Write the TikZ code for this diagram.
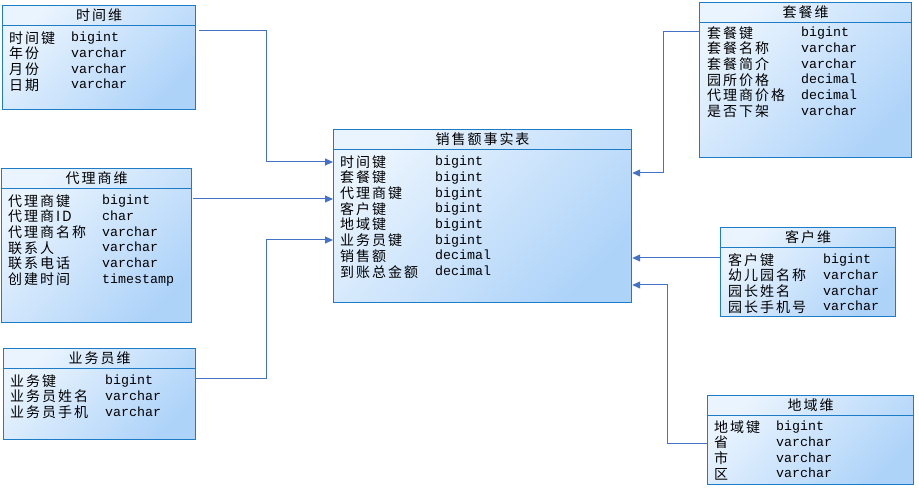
\documentclass[tikz,border=0pt]{standalone}
\usepackage{fontspec}
\usepackage{array}
\setmonofont{Liberation Mono}
\newfontfamily\cjk[LetterSpace=14]{Noto Sans CJK SC}
\usetikzlibrary{arrows.meta,calc}

\definecolor{boxblue}{HTML}{1E7CC6}
\definecolor{linkblue}{HTML}{4472C4}
\definecolor{filltop}{HTML}{EAF4FE}
\definecolor{fillbot}{HTML}{AED3F9}

\newsavebox\cellbox
\newcolumntype{K}[1]{>{\begin{lrbox}{\cellbox}\cjk}l<{\end{lrbox}\makebox[#1][l]{\smash{\raisebox{-1.5pt}{\usebox\cellbox}}}}}
\newcolumntype{Y}{>{\ttfamily\fontsize{13.3pt}{15.7pt}\selectfont}l}

\begin{document}
\begin{tikzpicture}[x=1pt, y=-1pt,
	dimbox/.style = {draw=boxblue, line width=1.2pt, anchor=north west, inner sep=0pt,
		left color=filltop, right color=fillbot, shading angle=45},
	dimtitle/.style = {inner sep=0pt, font=\cjk\fontsize{14pt}{15.7pt}\selectfont},
	dimrows/.style = {anchor=north west, inner sep=0pt, font=\fontsize{14pt}{15.7pt}\selectfont},
	headrule/.style = {draw=boxblue, line width=1pt},
	fklink/.style = {draw=linkblue, line width=1pt, -{Triangle[length=8pt,width=7pt]}}
]
\useasboundingbox (0,0) rectangle (919,494);

% tables
\node[dimbox, minimum width=193pt, minimum height=104pt] (time) at (2,5) {};
\node[dimbox, minimum width=190pt, minimum height=154pt] (agent) at (1,168) {};
\node[dimbox, minimum width=192pt, minimum height=91pt] (sales) at (3,348) {};
\node[dimbox, minimum width=298pt, minimum height=173pt] (fact) at (333,129) {};
\node[dimbox, minimum width=212pt, minimum height=155pt] (package) at (699,2) {};
\node[dimbox, minimum width=175pt, minimum height=89pt] (customer) at (720,227) {};
\node[dimbox, minimum width=206pt, minimum height=89pt] (region) at (707,395) {};

% titles and header lines
\foreach \tbl/\name in {time/时间维, agent/代理商维, sales/业务员维, fact/销售额事实表,
	package/套餐维, customer/客户维, region/地域维}
{
	\node[dimtitle] (\tbl title) at ($(\tbl.north)+(0,10.5)$) {\name};
	\draw[headrule] ([yshift=-21pt]\tbl.north west) -- ([yshift=-21pt]\tbl.north east);
}

% columns
\node[dimrows] (time rows) at ([xshift=7pt,yshift=-25.5pt]time.north west) {%
	\begin{tabular}{@{}K{62pt}@{}Y@{}}
	时间键 & bigint\\
	年份 & varchar\\
	月份 & varchar\\
	日期 & varchar
	\end{tabular}};
\node[dimrows] (agent rows) at ([xshift=7pt,yshift=-25.5pt]agent.north west) {%
	\begin{tabular}{@{}K{94pt}@{}Y@{}}
	代理商键 & bigint\\
	代理商ID & char\\
	代理商名称 & varchar\\
	联系人 & varchar\\
	联系电话 & varchar\\
	创建时间 & timestamp
	\end{tabular}};
\node[dimrows] (sales rows) at ([xshift=7pt,yshift=-25.5pt]sales.north west) {%
	\begin{tabular}{@{}K{95pt}@{}Y@{}}
	业务键 & bigint\\
	业务员姓名 & varchar\\
	业务员手机 & varchar
	\end{tabular}};
\node[dimrows] (fact rows) at ([xshift=7pt,yshift=-25.5pt]fact.north west) {%
	\begin{tabular}{@{}K{95pt}@{}Y@{}}
	时间键 & bigint\\
	套餐键 & bigint\\
	代理商键 & bigint\\
	客户键 & bigint\\
	地域键 & bigint\\
	业务员键 & bigint\\
	销售额 & decimal\\
	到账总金额 & decimal
	\end{tabular}};
\node[dimrows] (package rows) at ([xshift=8pt,yshift=-23.5pt]package.north west) {%
	\begin{tabular}{@{}K{94pt}@{}Y@{}}
	套餐键 & bigint\\
	套餐名称 & varchar\\
	套餐简介 & varchar\\
	园所价格 & decimal\\
	代理商价格 & decimal\\
	是否下架 & varchar
	\end{tabular}};
\node[dimrows] (customer rows) at ([xshift=8pt,yshift=-25.5pt]customer.north west) {%
	\begin{tabular}{@{}K{95pt}@{}Y@{}}
	客户键 & bigint\\
	幼儿园名称 & varchar\\
	园长姓名 & varchar\\
	园长手机号 & varchar
	\end{tabular}};
\node[dimrows] (region rows) at ([xshift=7pt,yshift=-24.5pt]region.north west) {%
	\begin{tabular}{@{}K{62pt}@{}Y@{}}
	地域键 & bigint\\
	省 & varchar\\
	市 & varchar\\
	区 & varchar
	\end{tabular}};

% foreign keys
\draw[fklink] ([xshift=3pt,yshift=-26pt]time.north east) -- ++(67,0) |- ([yshift=-33pt]fact.north west);
\draw[fklink] ([xshift=1pt,yshift=-31pt]agent.north east) -- ([yshift=-70pt]fact.north west);
\draw[fklink] ([yshift=-31pt]sales.north east) -- ++(70,0) |- ([yshift=-111pt]fact.north west);
\draw[fklink] ([yshift=-30pt]package.north west) -- ++(-36,0) |- ([yshift=-44pt]fact.north east);
\draw[fklink] ([yshift=-31pt]customer.north west) -- ([yshift=-129pt]fact.north east);
\draw[fklink] ([yshift=-48pt]region.north west) -- ++(-40,0) |- ([yshift=-156pt]fact.north east);
\end{tikzpicture}
\end{document}
